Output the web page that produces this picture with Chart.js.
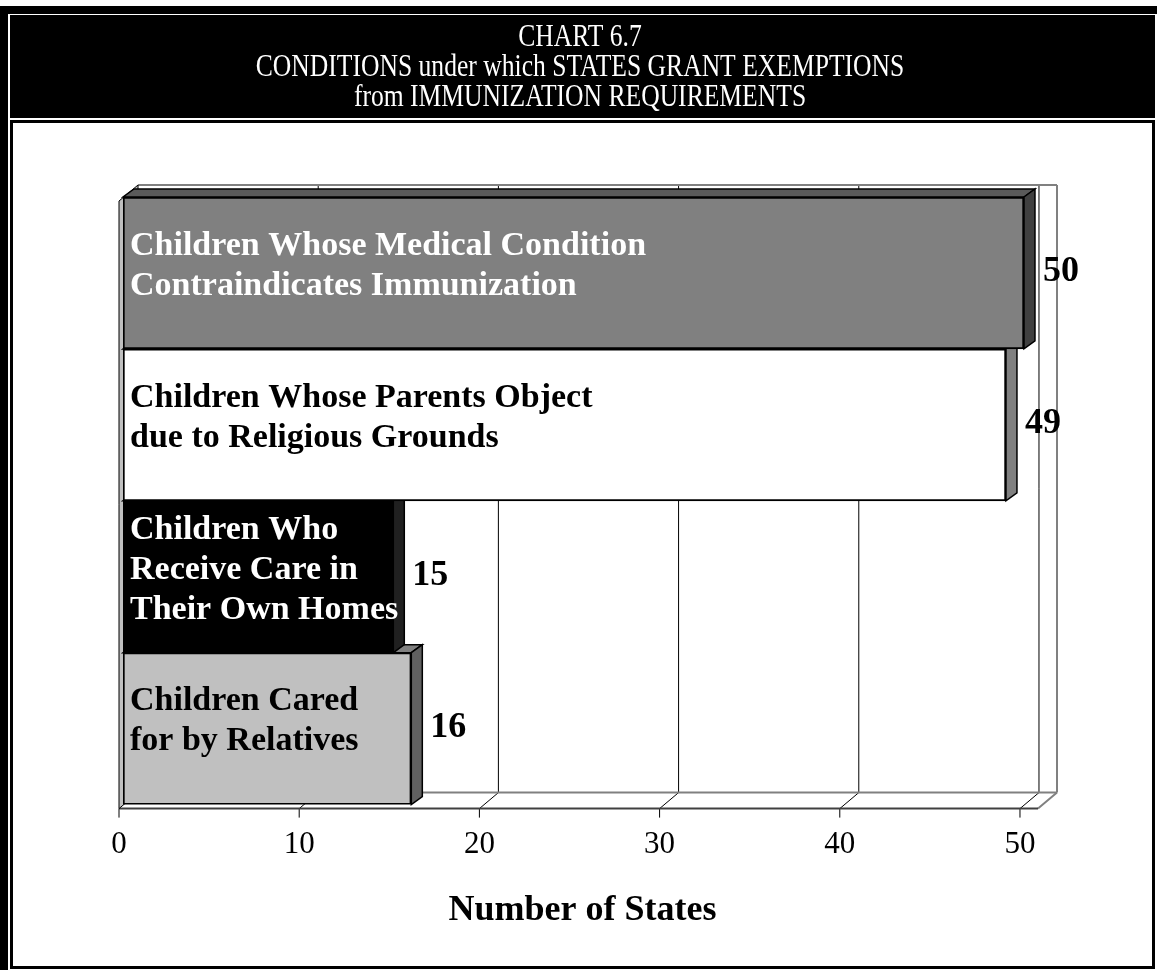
<!DOCTYPE html>
<html>
<head>
<meta charset="utf-8">
<script src="https://cdn.jsdelivr.net/npm/chart.js@4.4.1/dist/chart.umd.min.js"></script>
<style>
html, body { margin: 0; padding: 0; background: #fff; }
#wrap { position: relative; width: 1157px; height: 970px; }
</style>
</head>
<body>
<div id="wrap"><canvas id="chart" width="1157" height="970"></canvas></div>
<script>
const titleLines = ["CHART 6.7", "CONDITIONS under which STATES GRANT EXEMPTIONS", "from IMMUNIZATION REQUIREMENTS"];
const categories = [
    ["Children Whose Medical Condition", "Contraindicates Immunization"],
    ["Children Whose Parents Object", "due to Religious Grounds"],
    ["Children Who", "Receive Care in", "Their Own Homes"],
    ["Children Cared", "for by Relatives"]
];
const stateCounts = [50, 49, 15, 16];
const xTicks = [0, 10, 20, 30, 40, 50];
const axisTitle = "Number of States";

const frontColors = ["#808080", "#ffffff", "#000000", "#c0c0c0"];
const topColors = ["#5a5a5a", "#c0c0c0", "#303030", "#808080"];
const sideColors = ["#404040", "#808080", "#202020", "#606060"];
const labelColors = ["#ffffff", "#000000", "#ffffff", "#000000"];

const serif = "'Liberation Serif', 'Times New Roman', serif";
Chart.defaults.font.family = serif;
Chart.defaults.color = "#000";

function poly(ctx, pts, fill, stroke, lw) {
    ctx.beginPath();
    ctx.moveTo(pts[0][0], pts[0][1]);
    for (let i = 1; i < pts.length; i++) {
        ctx.lineTo(pts[i][0], pts[i][1]);
    }
    ctx.closePath();
    if (fill) {
        ctx.fillStyle = fill;
        ctx.fill();
    }
    if (stroke) {
        ctx.strokeStyle = stroke;
        ctx.lineWidth = lw || 1;
        ctx.stroke();
    }
}

function line(ctx, x1, y1, x2, y2, color, lw) {
    ctx.beginPath();
    ctx.moveTo(x1, y1);
    ctx.lineTo(x2, y2);
    ctx.strokeStyle = color;
    ctx.lineWidth = lw || 1;
    ctx.stroke();
}

// frame + black header box
const framePlugin = {
    id: "frame",
    beforeDraw(chart) {
        const ctx = chart.ctx;
        const w = chart.width, h = chart.height;
        ctx.save();
        ctx.fillStyle = "#fff";
        ctx.fillRect(0, 0, w, h);
        ctx.fillStyle = "#000";
        ctx.fillRect(0, 6, 8, h - 6);
        ctx.fillRect(0, 6, w, 8);
        ctx.fillRect(10, 15, w - 12, 103);
        ctx.lineWidth = 3;
        ctx.strokeStyle = "#000";
        ctx.strokeRect(11.5, 121.5, w - 15, h - 124);

        ctx.fillStyle = "#fff";
        ctx.font = "32px " + serif;
        ctx.textAlign = "center";
        ctx.textBaseline = "middle";
        titleLines.forEach((t, i) => {
            ctx.save();
            ctx.translate(580, 38 + i * 30);
            ctx.scale(0.8, 1);
            ctx.fillText(t, 0, 0);
            ctx.restore();
        });
        ctx.restore();
    }
};

// 3D box (back wall, floor, left wall) and bar depth faces
const boxPlugin = {
    id: "box3d",
    beforeDatasetsDraw(chart) {
        const ctx = chart.ctx;
        const xs = chart.scales.x;
        const area = chart.chartArea;
        const fx = -4, fy = 4, bx = 15, by = -12;
        const top = area.top, bot = area.bottom;
        const x0 = xs.getPixelForValue(xs.min);
        const x1 = xs.getPixelForValue(xs.max);
        ctx.save();
        poly(ctx, [[x0 + bx, top + by], [x1 + bx, top + by], [x1 + bx, bot + by], [x0 + bx, bot + by]], "#fff");
        poly(ctx, [[x0 + fx, bot + fy], [x1 + fx, bot + fy], [x1 + bx, bot + by], [x0 + bx, bot + by]], "#fff");

        xTicks.forEach(v => {
            const p = xs.getPixelForValue(v);
            if (v > 0) {
                line(ctx, p + bx, top + by, p + bx, bot + by, "#000", 1);
                line(ctx, p + bx, bot + by, p + fx, bot + fy, "#000", 1);
            }
            line(ctx, p + fx, bot + fy, p + fx, bot + fy + 9, "#000", 1);
        });

        line(ctx, x0 + bx, top + by, x1 + bx, top + by, "#808080", 2);
        line(ctx, x1 + bx, top + by, x1 + bx, bot + by, "#808080", 2);
        line(ctx, x1 + bx, bot + by, x1 + fx, bot + fy, "#808080", 2);
        line(ctx, x0 + bx, bot + by, x1 + bx, bot + by, "#808080", 2);
        line(ctx, x0 + fx, bot + fy, x1 + fx, bot + fy, "#404040", 2);

        poly(ctx, [[x0 + fx, top + fy], [x0 + bx, top + by], [x0 + bx, bot + by], [x0 + fx, bot + fy]], "#c0c0c0", "#000", 1);

        // depth faces, bottom bar first so upper bars cover them
        const bars = chart.getDatasetMeta(0).data;
        const dx = 11, dy = -8;
        for (let i = bars.length - 1; i >= 0; i--) {
            const b = bars[i];
            const t = b.y - b.height / 2, btm = b.y + b.height / 2;
            const l = b.base, r = b.x;
            poly(ctx, [[l, t], [r, t], [r + dx, t + dy], [l + dx, t + dy]], topColors[i], "#000", 1.5);
            poly(ctx, [[r, t], [r + dx, t + dy], [r + dx, btm + dy], [r, btm]], sideColors[i], "#000", 1.5);
        }
        ctx.restore();
    },
    afterDatasetsDraw(chart) {
        const ctx = chart.ctx;
        const bars = chart.getDatasetMeta(0).data;
        ctx.save();
        ctx.textBaseline = "middle";
        bars.forEach((b, i) => {
            const lines = categories[i];
            ctx.font = "bold 34px " + serif;
            ctx.fillStyle = labelColors[i];
            ctx.textAlign = "left";
            const cy = b.y - 7 - (lines.length - 1) * 20;
            lines.forEach((s, k) => ctx.fillText(s, b.base + 7, cy + k * 40));

            ctx.font = "bold 36px " + serif;
            ctx.fillStyle = "#000";
            ctx.fillText(String(stateCounts[i]), b.x + 19, b.y - 1);
        });
        ctx.restore();
    }
};

new Chart(document.getElementById("chart"), {
    type: "bar",
    data: {
        labels: categories,
        datasets: [{
            data: stateCounts,
            backgroundColor: frontColors,
            borderColor: "#000",
            borderWidth: 2,
            borderSkipped: false,
            categoryPercentage: 1,
            barPercentage: 1
        }]
    },
    options: {
        indexAxis: "y",
        responsive: false,
        animation: false,
        devicePixelRatio: 1,
        layout: { padding: { left: 123, right: 115, top: 197, bottom: 34 } },
        plugins: {
            legend: { display: false },
            tooltip: { enabled: false },
            title: { display: false }
        },
        scales: {
            x: {
                min: 0,
                max: 51,
                afterBuildTicks: s => { s.ticks = xTicks.map(v => ({ value: v })); },
                grid: { display: false, drawTicks: false },
                border: { display: false },
                ticks: { font: { size: 31 }, color: "#000", padding: 22, labelOffset: -4 },
                title: {
                    display: true,
                    text: axisTitle,
                    font: { size: 36, weight: "bold" },
                    color: "#000",
                    padding: { top: 3, bottom: 4 }
                }
            },
            y: {
                display: false,
                grid: { display: false }
            }
        }
    },
    plugins: [framePlugin, boxPlugin]
});
</script>
</body>
</html>
